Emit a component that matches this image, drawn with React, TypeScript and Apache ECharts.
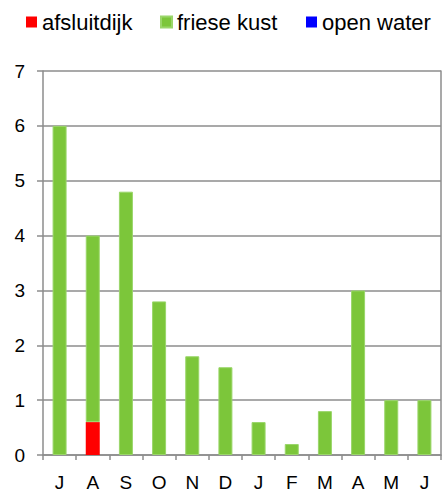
import React, { useEffect, useRef } from "react";
import * as echarts from "echarts";

const months = ["J", "A", "S", "O", "N", "D", "J", "F", "M", "A", "M", "J"];
const afsluitdijk = [0, 0.6, 0, 0, 0, 0, 0, 0, 0, 0, 0, 0];
const frieseKust = [6, 3.4, 4.8, 2.8, 1.8, 1.6, 0.6, 0.2, 0.8, 3.0, 1.0, 1.0];
const openWater = [0, 0, 0, 0, 0, 0, 0, 0, 0, 0, 0, 0];
const yTicks = [0, 1, 2, 3, 4, 5, 6, 7];
const seriesNames = ["afsluitdijk", "friese kust", "open water"];
const legendLefts = [21, 155, 301];

const FONT = "'Liberation Sans', Arial, sans-serif";
const AXIS = "#8c8c8c";

export default function App() {
  const ref = useRef<HTMLDivElement>(null);
  useEffect(() => {
    if (!ref.current) return;
    const chart = echarts.init(ref.current, undefined, { renderer: "svg" });
    chart.setOption({
      animation: false,
      textStyle: { fontFamily: FONT },
      legend: seriesNames.map((n, i) => ({
        top: 6,
        left: legendLefts[i],
        itemWidth: 11,
        itemHeight: 11,
        itemGap: 0,
        icon: "rect",
        textStyle: { fontSize: 22, color: "#000", fontFamily: FONT },
        data: [n],
      })),
      grid: { left: 43, right: 6, top: 71, bottom: 38, containLabel: false },
      xAxis: {
        type: "category",
        data: months,
        axisLine: { lineStyle: { color: AXIS, width: 1.5 } },
        axisTick: { show: true, length: 5, lineStyle: { color: AXIS, width: 1.5 } },
        axisLabel: { color: "#000", fontSize: 19, margin: 18, fontFamily: FONT },
      },
      yAxis: [
        {
          type: "value",
          min: yTicks[0],
          max: yTicks[yTicks.length - 1],
          interval: 1,
          axisLine: { show: true, lineStyle: { color: AXIS, width: 1.5 } },
          axisTick: { show: true, length: 6, lineStyle: { color: AXIS, width: 1.5 } },
          axisLabel: { color: "#000", fontSize: 19, margin: 18, fontFamily: FONT },
          splitLine: { show: true, lineStyle: { color: AXIS, width: 1.5 } },
        },
        {
          type: "value",
          position: "right",
          min: 0,
          max: 7,
          interval: 1,
          axisLine: { show: true, lineStyle: { color: AXIS, width: 1.5 } },
          axisTick: { show: false },
          axisLabel: { show: false },
          splitLine: { show: false },
        },
      ],
      series: [
        {
          name: seriesNames[0],
          type: "bar",
          stack: "total",
          barWidth: 14,
          data: afsluitdijk,
          itemStyle: { color: "#ff0000" },
        },
        {
          name: seriesNames[1],
          type: "bar",
          stack: "total",
          barWidth: 14,
          data: frieseKust,
          itemStyle: { color: "#7cc63a", borderColor: "#9ad66a", borderWidth: 1 },
        },
        {
          name: seriesNames[2],
          type: "bar",
          stack: "total",
          barWidth: 14,
          data: openWater,
          itemStyle: { color: "#0000ff" },
        },
      ],
    });
    return () => chart.dispose();
  }, []);
  return <div ref={ref} style={{ width: 447, height: 493, position: "absolute", left: 0, top: 0 }} />;
}
